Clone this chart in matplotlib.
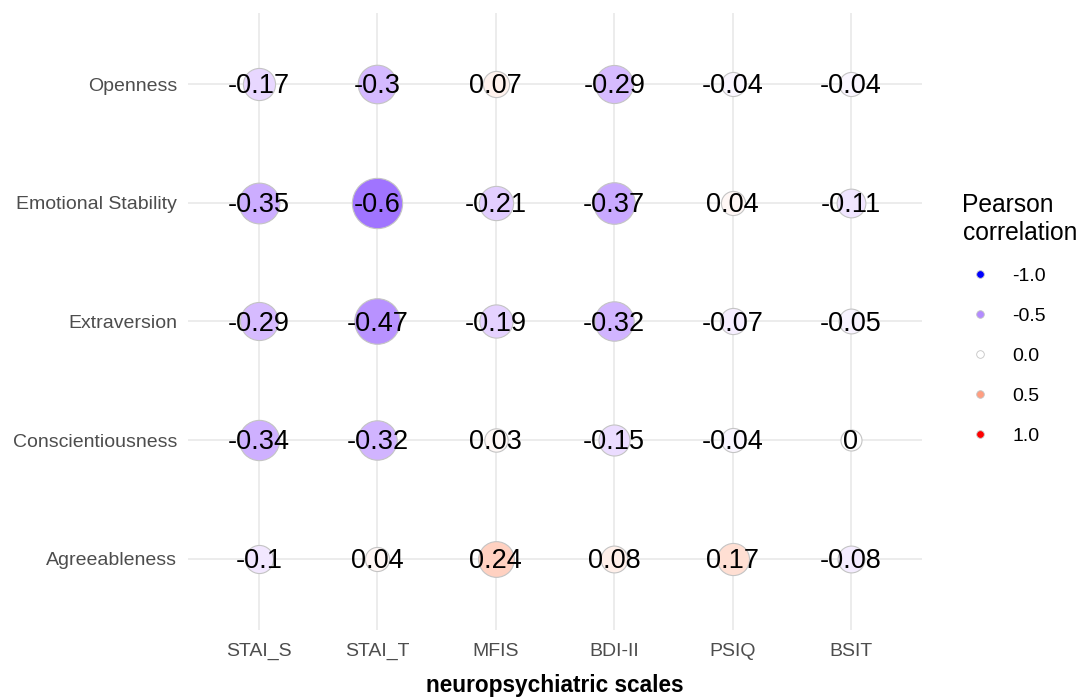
import matplotlib
matplotlib.use("Agg")
import matplotlib.pyplot as plt
from matplotlib.lines import Line2D
import numpy as np

plt.rcParams['font.family'] = ['Liberation Sans', 'DejaVu Sans']

# data
traits = ["Openness", "Emotional Stability", "Extraversion",
          "Conscientiousness", "Agreeableness"]
scales = ["STAI_S", "STAI_T", "MFIS", "BDI-II", "PSIQ", "BSIT"]
r_open = [-0.17, -0.3, 0.07, -0.29, -0.04, -0.04]
r_emot = [-0.35, -0.6, -0.21, -0.37, 0.04, -0.11]
r_extr = [-0.29, -0.47, -0.19, -0.32, -0.07, -0.05]
r_cons = [-0.34, -0.32, 0.03, -0.15, -0.04, 0]
r_agre = [-0.1, 0.04, 0.24, 0.08, 0.17, -0.08]
legend_vals = [-1.0, -0.5, 0.0, 0.5, 1.0]


# colour scale: white mid, blue low, red high, interpolated in Lab (like ggplot)
def srgb_to_lab(c):
    c = np.asarray(c, float)
    lin = np.where(c <= 0.04045, c / 12.92, ((c + 0.055) / 1.055) ** 2.4)
    M = np.array([[0.4124, 0.3576, 0.1805],
                  [0.2126, 0.7152, 0.0722],
                  [0.0193, 0.1192, 0.9505]])
    xyz = M @ lin / np.array([0.95047, 1.0, 1.08883])
    f = np.where(xyz > 0.008856, np.cbrt(xyz), 7.787 * xyz + 16 / 116)
    return np.array([116 * f[1] - 16, 500 * (f[0] - f[1]), 200 * (f[1] - f[2])])


def lab_to_srgb(lab):
    L, a, b = lab
    fy = (L + 16) / 116
    fx = fy + a / 500
    fz = fy - b / 200
    f = np.array([fx, fy, fz])
    xyz = np.where(f ** 3 > 0.008856, f ** 3, (f - 16 / 116) / 7.787)
    xyz = xyz * np.array([0.95047, 1.0, 1.08883])
    Minv = np.array([[3.2406, -1.5372, -0.4986],
                     [-0.9689, 1.8758, 0.0415],
                     [0.0557, -0.2040, 1.0570]])
    lin = Minv @ xyz
    c = np.where(lin <= 0.0031308, 12.92 * lin, 1.055 * np.clip(lin, 0, None) ** (1 / 2.4) - 0.055)
    return tuple(np.clip(c, 0, 1))


LAB_LOW = srgb_to_lab([0, 0, 1])
LAB_MID = srgb_to_lab([1, 1, 1])
LAB_HIGH = srgb_to_lab([1, 0, 0])


def corr_color(v):
    end = LAB_LOW if v < 0 else LAB_HIGH
    t = min(abs(v), 1.0)
    return lab_to_srgb(LAB_MID + (end - LAB_MID) * t)


def corr_size(v):
    return 229 + 1800 * abs(v)


fig = plt.figure(figsize=(10.83, 6.98), dpi=100)
ax = fig.add_axes([188 / 1083, 68 / 698, 734 / 1083, 617 / 698])

rows = [r_open, r_emot, r_extr, r_cons, r_agre]
ypos = np.arange(len(traits), 0, -1)
xpos = np.arange(1, len(scales) + 1)

for yi, vals in zip(ypos, rows):
    for xi, v in zip(xpos, vals):
        ax.scatter(xi, yi, s=corr_size(v), color=corr_color(v),
                   edgecolors="#c4c4c4", linewidths=0.8, zorder=3)
        ax.annotate(f"{v:g}", (xi, yi), xytext=(0, -1.5), textcoords="offset points",
                    ha="center", va="center", fontsize=19.5, color="black", zorder=4)

ax.set_xlim(0.4, len(scales) + 0.6)
ax.set_ylim(0.4, len(traits) + 0.6)
ax.set_xticks(xpos)
ax.set_xticklabels(scales)
ax.set_yticks(ypos)
ax.set_yticklabels(traits)
ax.tick_params(length=0, labelsize=14, labelcolor="#4d4d4d", pad=9)
ax.tick_params(axis="y", pad=8)
ax.grid(True, color="#ebebeb", linewidth=1.3)
ax.set_axisbelow(True)
for sp in ax.spines.values():
    sp.set_visible(False)
ax.set_xlabel("neuropsychiatric scales", fontsize=16.3, fontweight="bold", labelpad=10)

handles = [Line2D([], [], linestyle="none", marker="o", markersize=5.5,
                  markerfacecolor=corr_color(v), markeredgecolor="#c4c4c4",
                  markeredgewidth=0.6) for v in legend_vals]
leg = ax.legend(handles, [f"{v:.1f}" for v in legend_vals],
                title="Pearson\ncorrelation", loc="upper left",
                bbox_to_anchor=(945 / 1083, 522 / 698), bbox_transform=fig.transFigure,
                frameon=False, fontsize=14, title_fontsize=17.7,
                labelspacing=1.15, handletextpad=0.75, handlelength=1.8,
                alignment="left")

fig.savefig("out.png", dpi=100)
